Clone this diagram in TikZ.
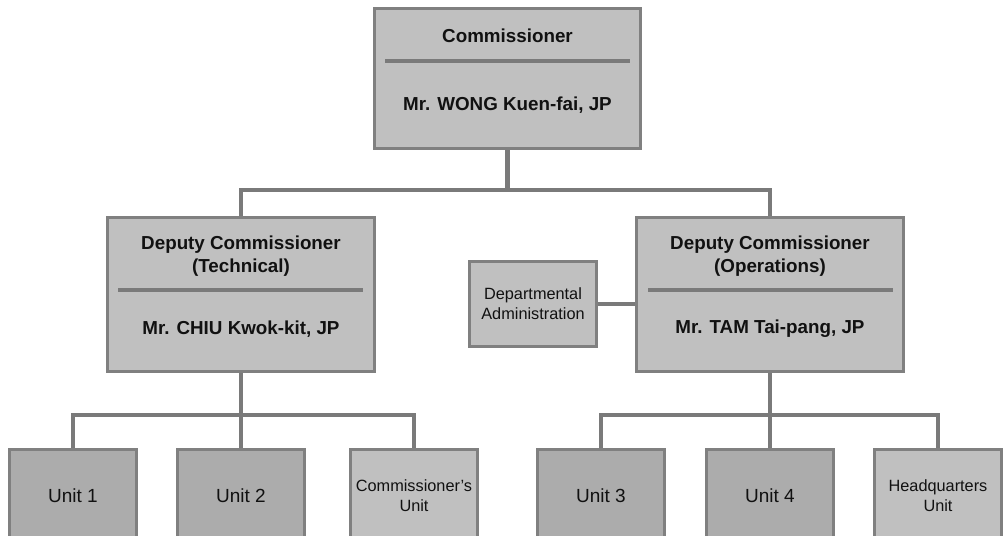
\documentclass[tikz,border=0pt]{standalone}
\usepackage{fontspec}
\setmainfont{Liberation Sans}
\definecolor{boxfill}{HTML}{C0C0C0}
\definecolor{unitfill}{HTML}{ACACAC}
\definecolor{edge}{HTML}{808080}
\definecolor{wire}{HTML}{7A7A7A}
\definecolor{ink}{HTML}{111111}
\tikzset{
  box/.style={draw=edge, line width=3pt, fill=boxfill, inner sep=0pt, text=ink, align=center},
  unitbox/.style={box, fill=unitfill},
  bigtxt/.style={font=\fontsize{18.8}{22.8}\selectfont\bfseries, text=ink, align=center, inner sep=0pt},
  smalltxt/.style={font=\fontsize{16.3}{20}\selectfont},
  unittxt/.style={font=\fontsize{19}{23}\selectfont},
  divider/.style={draw=wire, line width=4pt},
  wireline/.style={draw=wire, line width=4.5pt}
}
\begin{document}
\begin{tikzpicture}[x=1pt, y=-1pt]
\useasboundingbox (0,0) rectangle (1003,535);
\clip (0,0) rectangle (1003,535);
% main boxes
\node[box, minimum width=266pt, minimum height=140pt] (comm) at (507.5,78.5) {};
\node[box, minimum width=267pt, minimum height=154pt] (depL) at (241,294.5) {};
\node[box, minimum width=267pt, minimum height=154pt] (depR) at (770,294.5) {};
\node[box, minimum width=127pt, minimum height=85pt, smalltxt] (da) at (533,304) {Departmental\\Administration};
% texts in main boxes
\node[bigtxt] (commT) at (507.5,36) {Commissioner};
\node[bigtxt] (commN) at (507.5,105) {Mr. WONG Kuen-fai, JP};
\node[bigtxt] (depLT) at (241,256) {Deputy Commissioner\\(Technical)};
\node[bigtxt] (depLN) at (241,329) {Mr. CHIU Kwok-kit, JP};
\node[bigtxt] (depRT) at (770,256) {Deputy Commissioner\\(Operations)};
\node[bigtxt] (depRN) at (770,329) {Mr. TAM Tai-pang, JP};
% dividers
\coordinate (cd1) at (385,61);  \coordinate (cd2) at (630,61);
\coordinate (ld1) at (118,290); \coordinate (ld2) at (363,290);
\coordinate (rd1) at (648,290); \coordinate (rd2) at (893,290);
\draw[divider] (cd1) -- (cd2);
\draw[divider] (ld1) -- (ld2);
\draw[divider] (rd1) -- (rd2);
% units
\node[unitbox, minimum width=127pt, minimum height=93pt, unittxt] (u1) at (73,496) {Unit 1};
\node[unitbox, minimum width=127pt, minimum height=93pt, unittxt] (u2) at (241,496) {Unit 2};
\node[box, minimum width=127pt, minimum height=93pt, smalltxt] (cu) at (414,496) {Commissioner's\\Unit};
\node[unitbox, minimum width=127pt, minimum height=93pt, unittxt] (u3) at (601,496) {Unit 3};
\node[unitbox, minimum width=127pt, minimum height=93pt, unittxt] (u4) at (770,496) {Unit 4};
\node[box, minimum width=127pt, minimum height=93pt, smalltxt] (hq) at (938,496) {Headquarters\\Unit};
% connectors
\coordinate (bus1) at (507.5,190);
\coordinate (bus2) at (241,415);
\coordinate (bus3) at (770,415);
\draw[wireline] (comm.south) -- (bus1);
\draw[wireline, line join=miter] (depL.north) |- (bus1) -| (depR.north);
\draw[wireline] (da.east) -- (da.east -| depR.west);
\draw[wireline] (depL.south) -- (bus2);
\draw[wireline, line join=miter] (u1.north) |- (bus2) -| (cu.north);
\draw[wireline] (bus2) -- (u2.north);
\draw[wireline] (depR.south) -- (bus3);
\draw[wireline, line join=miter] (u3.north) |- (bus3) -| (hq.north);
\draw[wireline] (bus3) -- (u4.north);
\end{tikzpicture}
\end{document}
